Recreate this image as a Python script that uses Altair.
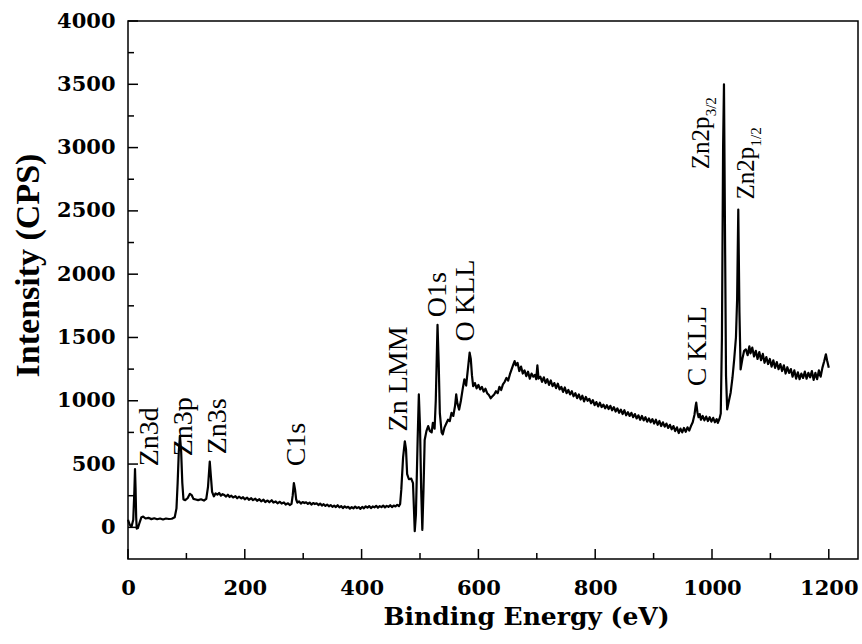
import altair as alt
import pandas as pd

# ---- spectrum, region by region ----
E_valence = [0, 3, 6, 9, 11, 12, 13, 14, 15, 17, 20, 23, 26, 30, 35, 40, 45, 50, 55, 60, 65, 70, 75, 80,
             83, 85, 87, 89, 91, 93, 95, 98, 102, 106, 109, 112, 116, 120, 125, 130, 134, 137, 140, 142]
I_valence = [60, 20, 5, 60, 300, 460, 300, 80, -10, -5, 40, 80, 85, 70, 75, 65, 72, 64, 70, 62, 70, 66, 68, 80,
             150, 350, 600, 720, 600, 350, 220, 215, 230, 265, 255, 225, 220, 215, 222, 212, 225, 320, 520, 400]

E_c1s = [144, 147, 150, 153, 156, 159, 162, 165, 168, 171, 174, 177, 180, 184, 187, 190, 194, 197, 200, 204,
         207, 211, 214, 218, 221, 225, 228, 232, 235, 239, 242, 246, 249, 253, 256, 260, 263, 267, 270, 274,
         277, 280, 282, 284, 286, 288]
I_c1s = [280, 245, 268, 258, 272, 250, 262, 255, 243, 258, 240, 250, 236, 247, 230, 242, 228, 238, 222, 235,
         218, 230, 215, 226, 210, 222, 205, 218, 200, 212, 198, 214, 196, 205, 190, 202, 188, 197, 180, 190,
         176, 185, 250, 350, 300, 220]

E_flat = [290, 293, 296, 299, 302, 305, 308, 311, 314, 317, 320, 323, 326, 329, 332, 335, 338, 341, 344, 347,
          350, 353, 356, 359, 362, 365, 368, 371, 374, 377, 380, 383, 386, 389, 392, 395, 398, 401, 404, 407,
          410, 413, 416, 419, 422, 425, 428, 431, 434, 437, 440, 443, 446, 449, 452, 455, 458, 461, 464, 466]
I_flat = [195, 205, 188, 200, 192, 198, 185, 196, 180, 192, 184, 190, 176, 188, 172, 183, 170, 180, 166, 176,
          162, 172, 160, 175, 158, 168, 152, 166, 155, 162, 148, 160, 150, 164, 152, 160, 146, 162, 150, 166,
          155, 168, 152, 165, 158, 170, 155, 168, 160, 172, 158, 170, 162, 175, 160, 172, 165, 178, 168, 185]

E_o1s = [468, 471, 474, 476, 478, 481, 485, 488, 490, 491, 493, 496, 498, 500, 502, 504, 506, 508, 511, 514,
         517, 520, 522, 525, 527, 529, 530, 532, 534, 537, 539, 542, 545, 548, 551, 554, 557, 560, 562, 564,
         567, 570, 573, 576, 579, 582, 585, 587, 589]
I_o1s = [300, 550, 680, 620, 420, 380, 385, 350, 100, -30, 100, 700, 1050, 800, 300, -20, 300, 690, 760, 800,
         760, 750, 825, 780, 1000, 1400, 1600, 1300, 900, 750, 735, 790, 820, 850, 840, 905, 880, 960, 1050, 980,
         930, 1000, 1090, 1170, 1120, 1250, 1380, 1330, 1200]

E_hump = [591, 594, 597, 600, 603, 606, 609, 612, 615, 618, 621, 624, 627, 630, 633, 636, 639, 642, 645, 648,
          651, 654, 657, 660, 662, 664, 667, 670, 673, 676, 679, 682, 685, 688, 691, 694, 697, 699, 701, 703]
I_hump = [1115, 1140, 1098, 1125, 1090, 1110, 1072, 1095, 1060, 1045, 1020, 1035, 1050, 1075, 1060, 1110, 1085,
          1130, 1150, 1180, 1160, 1210, 1250, 1290, 1313, 1280, 1300, 1235, 1270, 1215, 1240, 1195, 1230, 1175,
          1215, 1190, 1205, 1170, 1280, 1175]

E_slope = [706, 709, 712, 715, 718, 721, 724, 727, 730, 733, 736, 739, 742, 745, 748, 751, 754, 757, 760, 763,
           766, 769, 772, 775, 778, 781, 784, 787, 790, 793, 796, 799, 802, 805, 808, 811, 814, 817, 820, 823,
           826, 829, 832, 835, 838, 841, 844, 847, 850, 853, 856, 859, 862, 865, 868, 871, 874, 877, 880, 883,
           886, 889, 892, 895, 898, 901, 904, 907, 910, 913, 916, 919, 922, 925, 928, 931, 934, 937, 940, 943,
           946, 949, 952, 955, 958, 961, 964]
I_slope = [1190, 1150, 1185, 1140, 1170, 1125, 1160, 1115, 1140, 1100, 1135, 1090, 1110, 1070, 1105, 1060, 1085,
           1050, 1075, 1035, 1060, 1020, 1050, 1010, 1040, 995, 1030, 1000, 1015, 980, 1005, 965, 990, 955, 985,
           950, 970, 940, 965, 935, 960, 925, 950, 915, 940, 905, 930, 895, 925, 885, 910, 880, 905, 870, 895,
           860, 885, 850, 880, 845, 870, 835, 860, 830, 855, 820, 850, 810, 840, 800, 830, 795, 820, 785, 810,
           775, 800, 760, 790, 745, 780, 750, 785, 755, 790, 765, 800]

E_ckll = [967, 970, 972, 973, 975, 977, 979, 981, 984, 987, 990, 993, 996, 999, 1002, 1005, 1008, 1010, 1013, 1015]
I_ckll = [830, 890, 960, 985, 910, 870, 895, 850, 880, 845, 875, 840, 870, 835, 865, 830, 855, 825, 860, 900]

E_zn2p = [1017, 1019, 1020.5, 1022, 1024, 1026, 1029, 1032, 1035, 1038, 1041, 1043, 1045, 1047]
I_zn2p = [1500, 3000, 3500, 2500, 1200, 932, 1000, 1066, 1180, 1327, 1500, 1800, 2510, 1700]

E_tail = [1049, 1052, 1055, 1058, 1061, 1064, 1066, 1069, 1072, 1075, 1078, 1081, 1084, 1087, 1090, 1093, 1096,
          1099, 1102, 1105, 1108, 1111, 1114, 1117, 1120, 1123, 1126, 1129, 1132, 1135, 1138, 1141, 1144, 1147,
          1150, 1153, 1156, 1159, 1162, 1165, 1168, 1171, 1174, 1177, 1180, 1183, 1186, 1189, 1192, 1195, 1197, 1200]
I_tail = [1248, 1330, 1395, 1406, 1360, 1430, 1375, 1420, 1350, 1395, 1330, 1385, 1320, 1370, 1300, 1345, 1290,
          1330, 1270, 1320, 1260, 1305, 1250, 1290, 1235, 1280, 1215, 1265, 1220, 1250, 1190, 1240, 1175, 1225,
          1170, 1215, 1180, 1230, 1175, 1220, 1185, 1235, 1165, 1220, 1170, 1240, 1190, 1260, 1310, 1367, 1320, 1260]

energy = E_valence + E_c1s + E_flat + E_o1s + E_hump + E_slope + E_ckll + E_zn2p + E_tail
intensity = I_valence + I_c1s + I_flat + I_o1s + I_hump + I_slope + I_ckll + I_zn2p + I_tail

# ---- ticks ----
x_major = [0, 200, 400, 600, 800, 1000, 1200]
x_minor = [100, 300, 500, 700, 900, 1100]
y_major = [0, 500, 1000, 1500, 2000, 2500, 3000, 3500, 4000]
y_minor = [250, 750, 1250, 1750, 2250, 2750, 3250, 3750]

# ---- peak annotations (anchor = start of the upward-reading text) ----
label_text = ["Zn3d", "Zn3p", "Zn3s", "C1s", "Zn LMM", "O1s", "O KLL", "C KLL"]
label_E = [51, 109, 167, 303, 477, 545, 593, 990]
label_I = [482, 561, 577, 482, 758, 1659, 1469, 1114]
zn2p_text = ["Zn2p", "Zn2p"]
zn2p_sub = ["3/2", "1/2"]
zn2p_E = [995, 1072]
zn2p_I = [2828, 2590]

W, H = 730, 538
xs = alt.Scale(domain=[0, 1250], nice=False, zero=False)
ys = alt.Scale(domain=[-250, 4000], nice=False, zero=False)

FONT = "DejaVu Serif"

x_axis = alt.Axis(values=x_major, format="d", ticks=False, domain=False, grid=False,
                  labelFont=FONT, labelFontWeight="bold", labelFontSize=21, labelColor="black",
                  labelPadding=18, labelOverlap=False, labelFlush=False,
                  title="Binding Energy (eV)", titleFont=FONT, titleFontWeight="bold",
                  titleFontSize=25, titleColor="black", titleX=398, titleY=65,
                  titleBaseline="alphabetic", titleAlign="center")
y_axis = alt.Axis(values=y_major, format="d", ticks=False, domain=False, grid=False,
                  labelFont=FONT, labelFontWeight="bold", labelFontSize=21, labelColor="black",
                  labelPadding=13, labelOverlap=False, labelFlush=False,
                  title="Intensity (CPS)", titleFont="Liberation Serif", titleFontWeight="bold",
                  titleFontSize=34, titleColor="black", titleX=-90, titleY=244, titleAngle=270,
                  titleBaseline="alphabetic", titleAlign="center")

X = alt.X("E:Q", scale=xs, axis=x_axis)
Y = alt.Y("I:Q", scale=ys, axis=y_axis)

spec = pd.DataFrame({"E": energy, "I": intensity})
line = alt.Chart(spec).mark_line(color="black", strokeWidth=2.2, strokeJoin="round").encode(x=X, y=Y)


def xticks(vals, length):
    return alt.Chart(pd.DataFrame({"E": vals})).mark_rule(color="black", strokeWidth=1.5).encode(
        x=X, y=alt.value(H), y2=alt.value(H - length))


def yticks(vals, length):
    return alt.Chart(pd.DataFrame({"I": vals})).mark_rule(color="black", strokeWidth=1.5).encode(
        y=Y, x=alt.value(0), x2=alt.value(length))


ann = alt.Chart(pd.DataFrame({"E": label_E, "I": label_I, "t": label_text})).mark_text(
    angle=270, align="left", baseline="alphabetic", font="Liberation Serif", fontSize=28, color="black"
).encode(x=X, y=Y, text="t:N")

zn_main = alt.Chart(pd.DataFrame({"E": zn2p_E, "I": zn2p_I, "t": zn2p_text})).mark_text(
    angle=270, align="left", baseline="alphabetic", font="Liberation Serif", fontSize=25, color="black"
).encode(x=X, y=Y, text="t:N")

zn_sub = alt.Chart(pd.DataFrame({"E": zn2p_E, "I": zn2p_I, "t": zn2p_sub})).mark_text(
    angle=270, align="left", baseline="alphabetic", font="Liberation Serif", fontSize=15, color="black",
    dx=53, dy=7
).encode(x=X, y=Y, text="t:N")

chart = alt.layer(
    line, xticks(x_major, 10), xticks(x_minor, 6), yticks(y_major, 10), yticks(y_minor, 6),
    ann, zn_main, zn_sub
).properties(
    width=W, height=H,
    autosize=alt.AutoSizeParams(type="none"),
    padding={"left": 128, "top": 21, "right": 4, "bottom": 85},
).configure_view(stroke="black", strokeWidth=1.5)

chart.save("out.html", embed_options={"renderer": "svg", "actions": False})
